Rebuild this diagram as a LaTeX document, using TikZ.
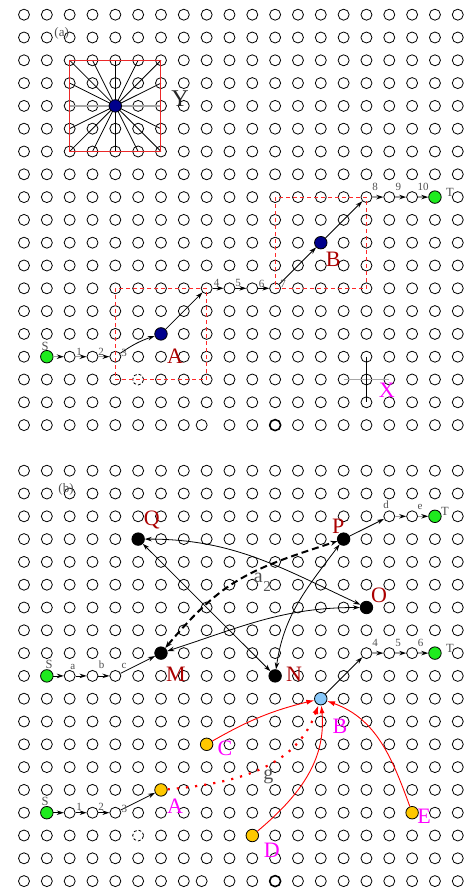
\documentclass[tikz,border=0pt]{standalone}
\usepackage{fontspec}
\setmainfont{Liberation Serif}
\usetikzlibrary{arrows.meta}
\definecolor{nodegreen}{RGB}{30,235,30}
\definecolor{navyblue}{RGB}{0,0,140}
\definecolor{skyblue}{RGB}{135,200,250}
\definecolor{gold}{RGB}{255,200,0}
\definecolor{darkred}{RGB}{170,0,0}
\definecolor{mag}{RGB}{255,0,255}
\definecolor{labgray}{RGB}{80,80,80}
\definecolor{sqred}{RGB}{235,40,40}
\definecolor{rectred}{RGB}{255,40,40}
\begin{document}
\begin{tikzpicture}[x=1pt,y=1pt,
  cell/.style={circle,draw=black,line width=0.8pt,minimum size=11pt,inner sep=0pt},
  fnode/.style={circle,draw=black,line width=0.8pt,minimum size=12.5pt,inner sep=0pt},
  lab/.style={inner sep=0pt,text=labgray,font=\fontsize{11}{11}\selectfont},
  slab/.style={inner sep=0pt,text=labgray,font=\fontsize{12.5}{12.5}\selectfont},
  bigred/.style={inner sep=0pt,text=darkred,font=\fontsize{22}{22}\selectfont},
  bigmag/.style={inner sep=0pt,text=mag,font=\fontsize{22}{22}\selectfont},
  barr/.style={draw=black,line width=0.8pt,-{Stealth[length=7pt,width=4.5pt]}},
  darr/.style={draw=black,line width=0.8pt,{Stealth[length=7pt,width=4.5pt]}-{Stealth[length=7pt,width=4.5pt]}},
  garr/.style={draw=gray!75,line width=1.4pt,-{Stealth[length=7pt,width=4.5pt,color=black]}},
  rarr/.style={draw=red,line width=0.9pt,-{Latex[length=8pt,width=5pt]}},
  rdot/.style={draw=red,line width=2.2pt,dash pattern=on 2.2pt off 7pt,-{Latex[length=9pt,width=6pt]}},
  ddash/.style={draw=black,line width=2pt,dash pattern=on 7pt off 4pt,{Stealth[length=7pt,width=5pt]}-{Stealth[length=7pt,width=5pt]}},
  rectd/.style={draw=rectred,line width=1pt,dash pattern=on 4pt off 3pt},
]
\useasboundingbox (0,0) rectangle (468,-890);
% grid of cells
\foreach \p in {0,20} {
  \foreach \k in {0,...,18} {
    \foreach \c in {0,...,19} {
      \pgfmathtruncatemacro\r{\p+\k}
      \def\sp{0}
      \ifnum\k=16 \ifnum\c=5 \def\sp{1}\fi\fi
      \ifnum\k=18 \ifnum\c=11 \def\sp{1}\fi\ifnum\c=8 \def\sp{1}\fi\fi
      \ifnum\sp=0
        \node[cell] (g-\c-\r) at ({24+22.83*\c},{-14.7-22.8*\r}) {};
      \fi
    }
  }
  \pgfmathtruncatemacro\ra{\p+16}
  \pgfmathtruncatemacro\rb{\p+18}
  \node[cell,dash pattern=on 3pt off 2pt] (g-5-\ra) at ({24+22.83*5},{-14.7-22.8*\ra}) {};
  \node[cell,line width=1.6pt] (g-11-\rb) at ({24+22.83*11},{-14.7-22.8*\rb}) {};
  \node[cell] (g-8-\rb) at ({24+22.83*8-5},{-14.7-22.8*\rb}) {};
}
% ---------- panel (a)
\foreach \c/\r in {2/2,3/2,4/2,5/2,6/2,2/3,6/3,2/5,6/5,2/6,3/6,4/6,5/6,6/6}
  \draw[line width=0.8pt] (g-4-4.center) -- (g-\c-\r.center);
\draw[gray!70,line width=1.8pt] (g-2-4.center) -- (g-6-4.center);
\draw[sqred,line width=1pt] (g-2-2.center) rectangle (g-6-6.center);
\draw[rectd] (g-4-12.center) rectangle (g-8-16.center);
\draw[rectd] (g-11-8.center) rectangle (g-15-12.center);
\draw[gray!70,line width=1.4pt] (g-14-16.center) -- (g-16-16.center);
\draw[line width=0.9pt] (g-15-15.center) -- (g-15-17.center);

\node[fnode,fill=navyblue] (Yc) at (g-4-4) {};
\node[fnode,fill=nodegreen] (S1) at (g-1-15) {};
\node[fnode,fill=navyblue] (A1) at (g-6-14) {};
\node[fnode,fill=navyblue] (B1) at (g-13-10) {};
\node[fnode,fill=nodegreen] (T1) at (g-18-8) {};

\draw[garr] (S1) -- (g-2-15);
\draw[garr] (g-2-15) -- (g-3-15);
\draw[garr] (g-3-15) -- (g-4-15);
\draw[barr] (g-4-15) to[bend left=8] (A1);
\draw[barr] (A1) -- (g-8-12);
\draw[barr] (g-8-12) -- (g-9-12);
\draw[barr] (g-9-12) -- (g-10-12);
\draw[barr] (g-10-12) -- (g-11-12);
\draw[barr] (g-11-12) -- (B1);
\draw[barr] (B1) -- (g-15-8);
\draw[garr] (g-15-8) -- (g-16-8);
\draw[garr] (g-16-8) -- (g-17-8);
\draw[garr] (g-17-8) -- (T1);

\node[slab,font=\fontsize{13}{13}\selectfont] (la) at (61.7,-33.3) {(a)};
\node[inner sep=0pt,text=black!85,font=\fontsize{24}{24}\selectfont] (lY) at (180,-99) {Y};
\node[slab] (lS1) at (45,-346.7) {S};
\node[lab] (l1a) at (79,-352) {1};
\node[lab] (l2a) at (101,-352) {2};
\node[lab] (l3a) at (124,-353) {3};
\node[bigred] (lA1) at (175,-356.7) {A};
\node[lab] (l4a) at (216.7,-283) {4};
\node[lab] (l5a) at (238,-283) {5};
\node[lab] (l6a) at (261.7,-284) {6};
\node[lab] (l7a) at (283,-284) {7};
\node[bigred] (lB1) at (333.3,-259.3) {B};
\node[lab] (l8a) at (375,-187.3) {8};
\node[lab] (l9a) at (398.3,-186.7) {9};
\node[lab] (l10a) at (423,-186.7) {10};
\node[slab] (lT1) at (450,-192.7) {T};
\node[bigmag] (lX) at (386.7,-390) {X};

% ---------- panel (b)
\node[fnode,fill=black] (Q) at (g-5-23) {};
\node[fnode,fill=black] (P) at (g-14-23) {};
\node[fnode,fill=black] (O) at (g-15-26) {};
\node[fnode,fill=black] (M) at (g-6-28) {};
\node[fnode,fill=black] (N) at (g-11-29) {};
\node[fnode,fill=nodegreen] (S2) at (g-1-29) {};
\node[fnode,fill=nodegreen] (T2) at (g-18-22) {};
\node[fnode,fill=nodegreen] (T3) at (g-18-28) {};
\node[fnode,fill=skyblue] (Bb) at (g-13-30) {};
\node[fnode,fill=gold] (C) at (g-8-32) {};
\node[fnode,fill=gold] (A2) at (g-6-34) {};
\node[fnode,fill=nodegreen] (S3) at (g-1-35) {};
\node[fnode,fill=gold] (D) at (g-10-36) {};
\node[fnode,fill=gold] (E) at (g-17-35) {};

\draw[barr] (S2) -- (g-2-29);
\draw[barr] (g-2-29) -- (g-3-29);
\draw[barr] (g-3-29) -- (g-4-29);
\draw[barr] (g-4-29) -- (M);
\draw[darr] (Q) to[out=0,in=155] (O);
\draw[darr] (Q) -- (N);
\draw[darr] (M) to[out=18,in=180] (O);
\draw[darr] (N) to[out=82,in=233] (P);
\draw[ddash] (M) to[out=50,in=198,looseness=1.15] (P);
\draw[barr] (P) -- (g-16-22);
\draw[garr] (g-16-22) -- (g-17-22);
\draw[garr] (g-17-22) -- (T2);
\draw[barr] (Bb) -- (g-15-28);
\draw[garr] (g-15-28) -- (g-16-28);
\draw[garr] (g-16-28) -- (g-17-28);
\draw[garr] (g-17-28) -- (T3);
\draw[rarr] (C) to[bend left=8] (Bb);
\draw[rdot] (A2) to[out=5,in=250] (Bb);
\draw[rarr] (D) to[out=40,in=275] (Bb);
\draw[rarr] (E) to[out=110,in=-20] (Bb);
\draw[barr] (S3) -- (g-2-35);
\draw[barr] (g-2-35) -- (g-3-35);
\draw[barr] (g-3-35) -- (g-4-35);
\draw[barr] (g-4-35) -- (A2);

\node[slab,font=\fontsize{13}{13}\selectfont] (lb) at (66,-489.3) {(b)};
\node[bigred] (lQ) at (151.7,-520) {Q};
\node[bigred] (lP) at (338.3,-526) {P};
\node[bigred] (lO) at (379,-595) {O};
\node[bigred] (lM) at (176,-674) {M};
\node[bigred] (lN) at (294,-674) {N};
\node[inner sep=0pt,text=labgray,font=\fontsize{20}{20}\selectfont] (la2) at (258.3,-578) {a};
\node[inner sep=0pt,text=labgray,font=\fontsize{15}{15}\selectfont] (l2sub) at (267,-587) {2};
\node[lab] (ld) at (386,-505) {d};
\node[lab] (le) at (420,-507) {e};
\node[slab] (lT2) at (445,-511) {T};
\node[slab] (lS2) at (49,-664) {S};
\node[lab] (lsa) at (72.7,-666.7) {a};
\node[lab] (lsb) at (101.7,-665) {b};
\node[lab] (lsc) at (124,-666) {c};
\node[lab] (l4b) at (375,-642.7) {4};
\node[lab] (l5b) at (398,-643) {5};
\node[lab] (l6b) at (420.7,-643) {6};
\node[slab] (lT3) at (450,-648) {T};
\node[bigmag] (lBb) at (340,-726) {B};
\node[bigmag] (lC) at (225,-748) {C};
\node[bigmag] (lA2) at (175,-806.7) {A};
\node[bigmag] (lD) at (271.7,-850) {D};
\node[bigmag] (lE) at (424,-816.7) {E};
\node[inner sep=0pt,text=labgray,font=\fontsize{20}{20}\selectfont] (lg) at (268.3,-777) {g};
\node[slab] (lS3) at (45,-801.7) {S};
\node[lab] (l1b) at (79,-807.3) {1};
\node[lab] (l2b) at (101,-807.3) {2};
\node[lab] (l3b) at (124.3,-809.3) {3};
\end{tikzpicture}
\end{document}
